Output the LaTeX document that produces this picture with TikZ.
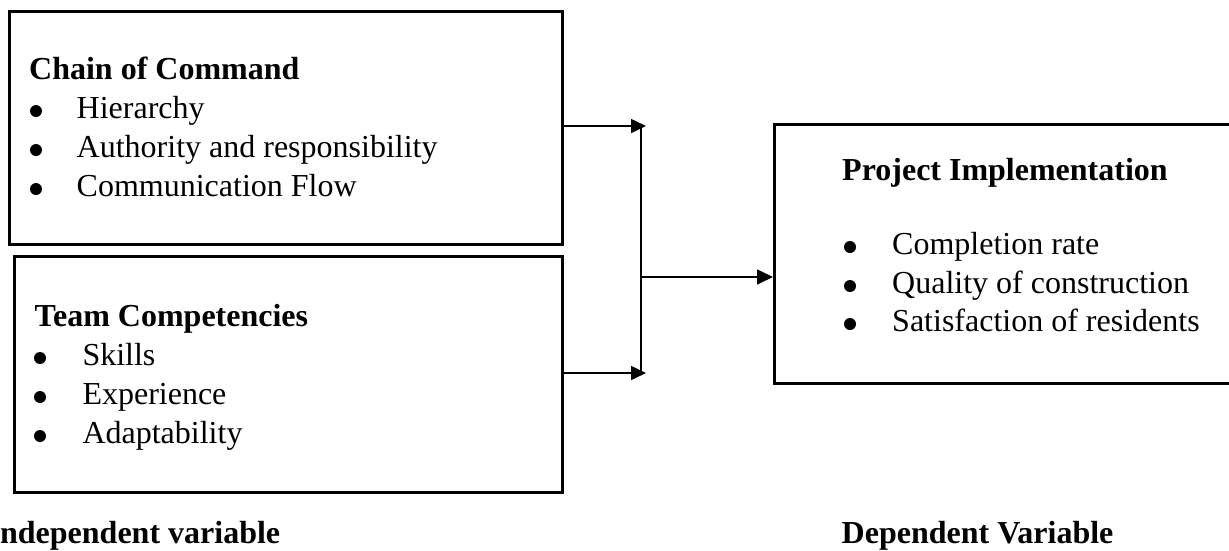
\documentclass[tikz,border=0pt]{standalone}
\usepackage{fontspec}
\setmainfont{Liberation Serif}
\usetikzlibrary{arrows.meta}
\begin{document}
\begin{tikzpicture}[x=1pt,y=-1pt,
  box/.style={draw, line width=2.6pt, inner sep=0pt, anchor=north west},
  txt/.style={anchor=base west, inner sep=0pt, font=\fontsize{32}{38}\selectfont},
  ttl/.style={anchor=base west, inner sep=0pt, font=\fontsize{32}{38}\selectfont\bfseries},
  bul/.style={circle, fill, inner sep=0pt, minimum size=12pt},
  conn/.style={line width=1.6pt},
  arr/.style={conn, -{Triangle[length=15pt,width=14pt]}},
  arrb/.style={conn, -{Triangle[length=16pt,width=15pt]}}]
\useasboundingbox (0,0) rectangle (1229,550);

% boxes
\node[box, minimum width=553pt, minimum height=233pt] (cc) at (8,10) {};
\node[box, minimum width=548pt, minimum height=236pt] (tc) at (13,255) {};
\node[box, minimum width=465pt, minimum height=259pt] (pi) at (773,123) {};

% Chain of Command
\node[ttl] (cct) at (29,79) {Chain of Command};
\node[bul] (ccb1) at (36,111) {};
\node[txt] (cc1) at (76.5,118) {Hierarchy};
\node[bul] (ccb2) at (36,150) {};
\node[txt] (cc2) at (76.5,157) {Authority and responsibility};
\node[bul] (ccb3) at (36,189) {};
\node[txt] (cc3) at (76.5,196) {Communication Flow};

% Team Competencies
\node[ttl] (tct) at (34.5,326) {Team Competencies};
\node[bul] (tcb1) at (40,358) {};
\node[txt] (tc1) at (82.3,365) {Skills};
\node[bul] (tcb2) at (40,397) {};
\node[txt] (tc2) at (82.3,404) {Experience};
\node[bul] (tcb3) at (40,436) {};
\node[txt] (tc3) at (82.3,443) {Adaptability};

% Project Implementation
\node[ttl] (pit) at (842,180) {Project Implementation};
\node[bul] (pib1) at (850,247) {};
\node[txt] (pi1) at (892,254) {Completion rate};
\node[bul] (pib2) at (850,286) {};
\node[txt] (pi2) at (892,293) {Quality of construction};
\node[bul] (pib3) at (850,324) {};
\node[txt] (pi3) at (892,331) {Satisfaction of residents};

% captions
\node[ttl] (iv) at (-12.5,543) {Independent variable};
\node[ttl] (dv) at (841.5,543) {Dependent Variable};

% connectors
\coordinate (t1) at (646,126);
\coordinate (t2) at (646,373);
\coordinate (j1) at (641,126);
\coordinate (j2) at (641,373);
\coordinate (jm) at (641,277);
\draw[arr] (cc.east |- t1) -- (t1);
\draw[arr] (tc.east |- t2) -- (t2);
\draw[conn] (j1) -- (j2);
\draw[arrb] (jm) -- (pi.west |- jm);
\end{tikzpicture}
\end{document}
